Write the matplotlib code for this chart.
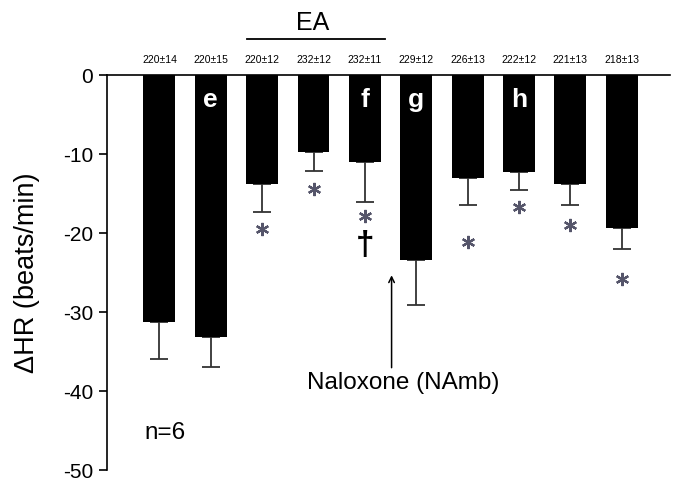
import numpy as np
import matplotlib.pyplot as plt

plt.rcParams['font.family'] = ['Liberation Sans', 'DejaVu Sans']
plt.rcParams['axes.unicode_minus'] = False

# dados
valores = [-31.3, -33.2, -13.8, -9.8, -11.0, -23.4, -13.1, -12.3, -13.8, -19.4]
erros = [4.7, 3.8, 3.6, 2.4, 5.1, 5.7, 3.3, 2.2, 2.6, 2.6]
basal = ["220±14", "220±15", "220±12", "232±12", "232±11",
         "229±12", "226±13", "222±12", "221±13", "218±13"]
letras = {1: "e", 4: "f", 5: "g", 7: "h"}
asteriscos = {2: -19.5, 3: -14.4, 4: -17.8, 6: -21.2, 7: -16.7, 8: -19.0, 9: -25.8}
adaga = (4, -21.6)

x = np.arange(len(valores))

fig = plt.figure(figsize=(6.73, 4.83), dpi=100)
ax = fig.add_axes([107 / 673, 1 - 470 / 483, (670 - 107) / 673, (470 - 75) / 483])

ax.bar(x, valores, width=0.62, color="black", zorder=2)
ax.errorbar(x, valores, yerr=[erros, [0] * len(erros)], fmt="none",
            ecolor="#333333", elinewidth=1.3, capsize=6.5, capthick=1.3, zorder=1)

ax.set_xlim(-1.02, 9.94)
ax.set_ylim(-50, 0)
ax.set_yticks(np.arange(-50, 1, 10))
ax.set_xticks([])
ax.tick_params(axis="y", direction="out", length=6, labelsize=15, width=1.2, pad=4)
ax.spines["bottom"].set_visible(False)
ax.spines["right"].set_visible(False)
ax.spines["top"].set_linewidth(1.2)
ax.spines["left"].set_linewidth(1.2)
ax.set_ylabel("ΔHR (beats/min)", fontsize=19.5)
ax.yaxis.set_label_coords(-0.119, 0.5)

for i, t in enumerate(basal):
    ax.text(x[i], 1.9, t, ha="center", va="center", fontsize=7.5, clip_on=False)

for i, t in letras.items():
    ax.text(x[i], -3.2, t, ha="center", va="center", color="white",
            fontsize=19, fontweight="bold")

for i, yv in asteriscos.items():
    ax.plot(x[i], yv, marker=(6, 2, 0), markersize=9.5, mew=1.6,
            color="#55556a", linestyle="none")

ax.text(adaga[0], adaga[1], "†", ha="center", va="center", fontsize=24,
        fontweight="bold", color="black")

# EA
ax.plot([1.71, 4.39], [4.5, 4.5], color="black", lw=1.3, clip_on=False)
ax.text(2.99, 6.6, "EA", ha="center", va="center", fontsize=18, clip_on=False)

# naloxona
ax.annotate("", xy=(4.52, -25.0), xytext=(4.52, -37.4),
            arrowprops=dict(arrowstyle="->", color="black", lw=1.1))
ax.text(4.74, -39.0, "Naloxone (NAmb)", ha="center", va="center", fontsize=17.5)
ax.text(0.11, -45.3, "n=6", ha="center", va="center", fontsize=17.5)

fig.savefig("out.png", dpi=100)
